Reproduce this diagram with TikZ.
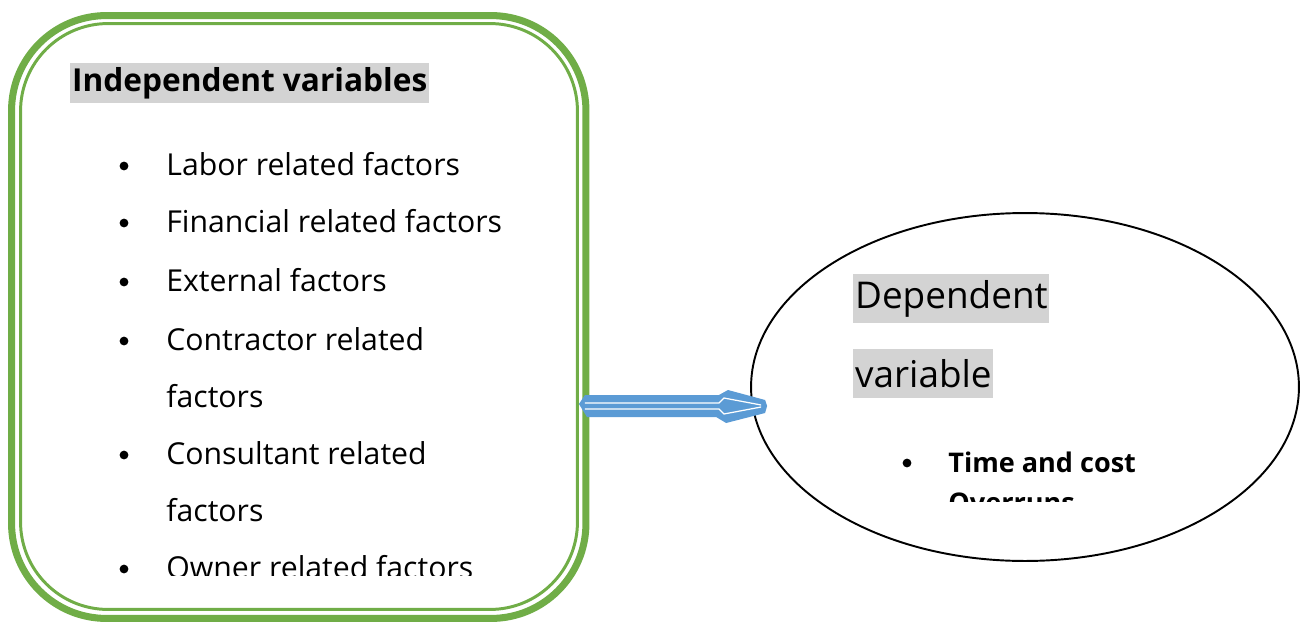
\documentclass[tikz,border=0pt]{standalone}
\usepackage{fontspec}
\setmainfont{Open Sans}
\usetikzlibrary{positioning,calc,shapes.geometric}
\definecolor{boxgreen}{RGB}{112,173,71}
\definecolor{arrowblue}{RGB}{91,155,213}
\definecolor{hlgray}{RGB}{211,211,211}

\begin{document}
\begin{tikzpicture}[x=0.02cm, y=-0.02cm,
  hl/.style={fill=hlgray, inner xsep=1pt, inner ysep=0pt, anchor=west},
  itemtext/.style={anchor=base west, inner sep=0pt, font=\fontsize{17.2}{20}\selectfont},
  itemdot/.style={circle, fill=black, inner sep=0pt, minimum size=5pt}]

\useasboundingbox (0,0) rectangle (1308,622);

% double green frame: heavy outer band, thin inner line
\node[draw=boxgreen, line width=4pt, rounded corners=1.9cm,
  minimum width=11.49cm, minimum height=12.06cm] (indep) at (298.75,317) {};
\node[draw=boxgreen, line width=1.7pt, rounded corners=1.75cm,
  minimum width=11.14cm, minimum height=11.72cm] (indepin) at (299,316.5) {};

% heading of the frame
\node[hl, font=\bfseries\fontsize{18}{21}\selectfont, minimum height=0.8cm]
  (indeptitle) at (70,83) {Independent variables};

% list of factors, cut off at the foot of the frame
\begin{scope}
  \clip (0,0) rectangle (1308,575);
  \foreach \y/\txt/\n in {175/Labor related factors/1, 232/Financial related factors/2,
      291/External factors/3, 350/Contractor related/4, 464/Consultant related/5,
      578/Owner related factors/6}{
    \node[itemdot] (dot\n) at (124,\y-9) {};
    \node[itemtext] (item\n) at (166,\y) {\txt};
  }
  \node[itemtext] (item4b) at (166,407) {factors};
  \node[itemtext] (item5b) at (166,521) {factors};
\end{scope}

% dependent variable
\node[draw, ellipse, line width=1.1pt, minimum width=10.96cm, minimum height=6.96cm]
  (dep) at (1025,387) {};
\node[hl, font=\fontsize{21}{24}\selectfont, minimum height=0.98cm]
  (deptitle) at (853,298.5) {Dependent};
\node[hl, font=\fontsize{21}{24}\selectfont, minimum height=0.98cm]
  (deptitleb) at (853,373.5) {variable};

\begin{scope}
  \clip (0,0) rectangle (1308,501);
  \node[itemdot] (depdot) at (907,463) {};
  \node[itemtext, font=\bfseries\fontsize{15.4}{18}\selectfont] (depitem) at (948,472) {Time and cost};
  \node[itemtext, font=\bfseries\fontsize{15.4}{18}\selectfont] (depitemb) at (948,512) {Overruns};
\end{scope}

% block arrow from frame to ellipse
\coordinate (arrowtail) at (indepin.east |- 0,404);
\path (dep.west |- 0,406) ++(17,0) coordinate (arrowtip);
\fill[arrowblue] (arrowtail) -- ++(6,-9) -- ++(134,0) -- ++(9,-5)
  -- ($(arrowtip)+(-2,-6)$) -- (arrowtip) -- ($(arrowtip)+(-2,7)$)
  -- ($(arrowtip)+(-41,17)$) -- ($(arrowtip)+(-51,11)$) -- ($(arrowtail)+(8,13)$) -- cycle;
\draw[white, line width=0.7pt] ($(arrowtail)+(6,-1)$) -- ++(134,0) -- ++(5,-5) -- ($(arrowtip)+(-6,-1)$);
\draw[white, line width=0.7pt] ($(arrowtail)+(6,5)$) -- ++(134,0) -- ++(5,5) -- ($(arrowtip)+(-6,1)$);
\end{tikzpicture}
\end{document}
